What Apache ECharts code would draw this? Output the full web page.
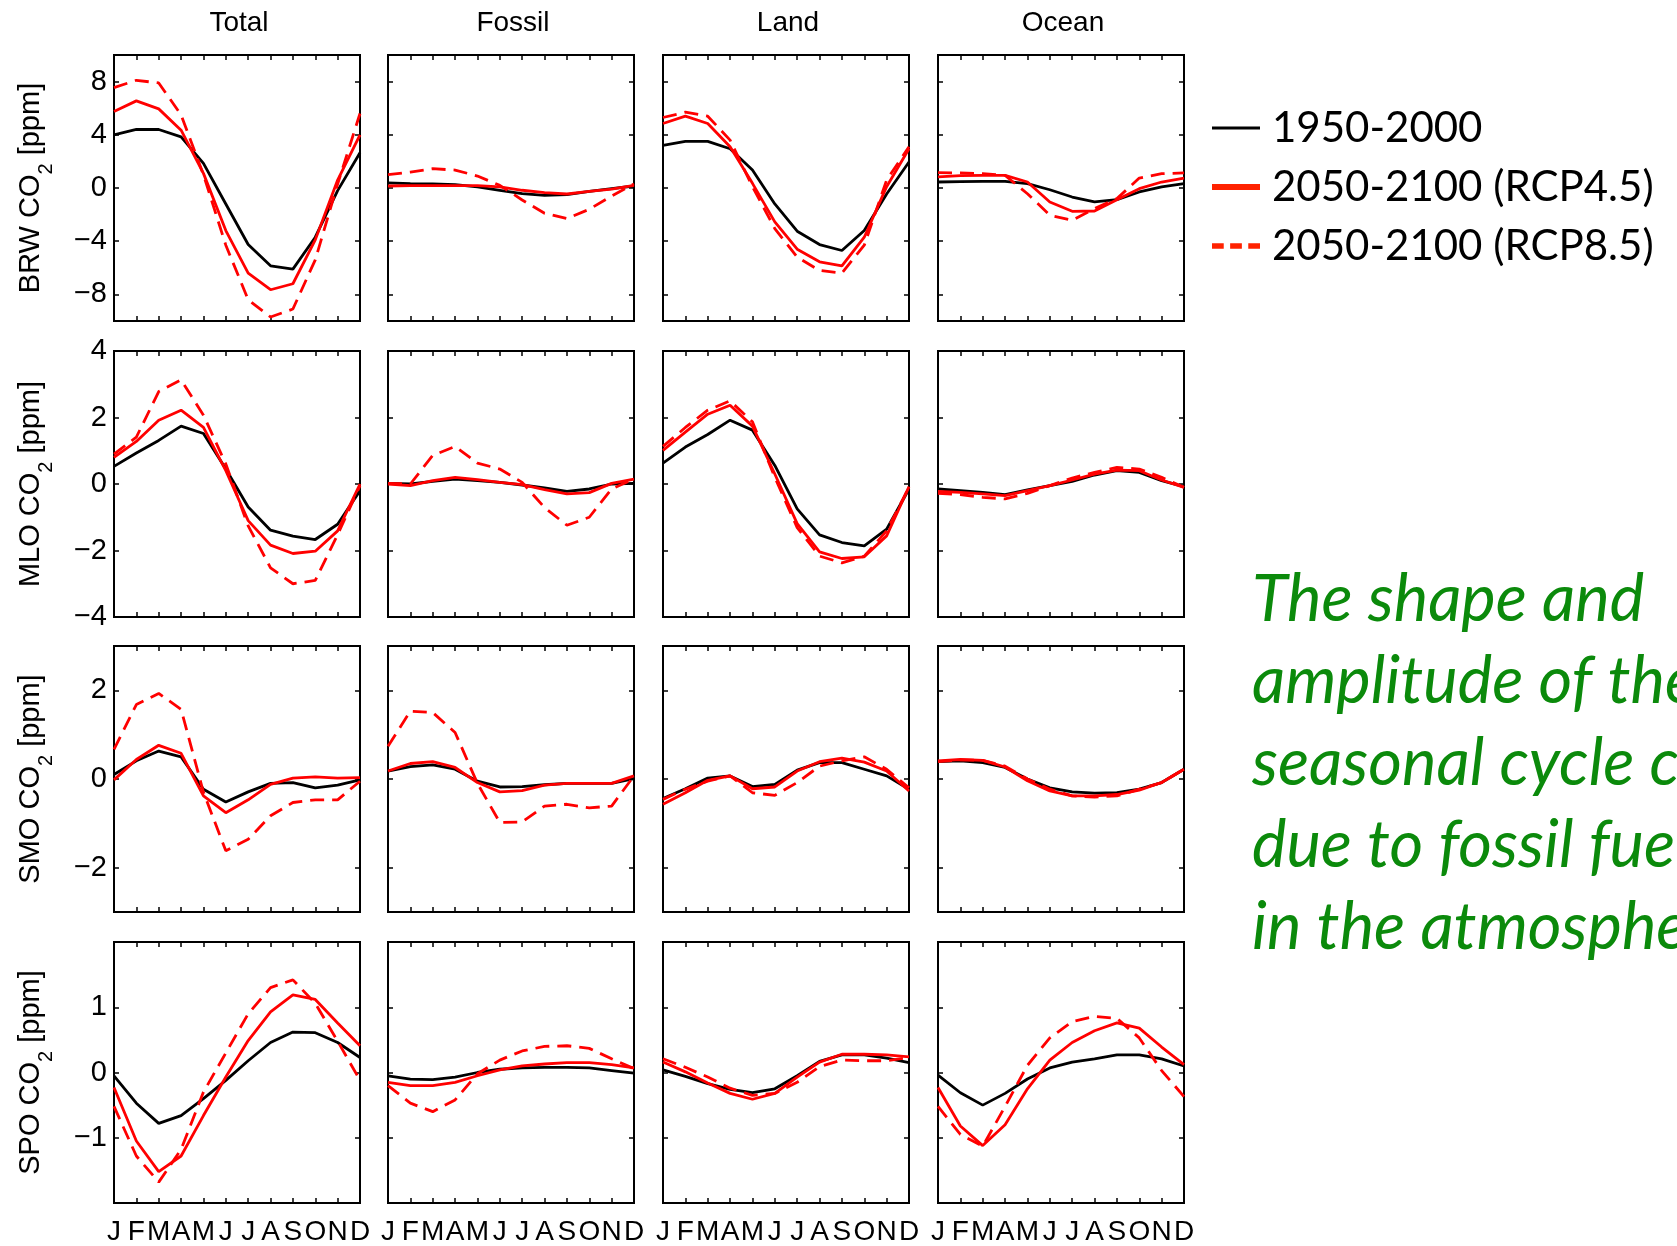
<!DOCTYPE html>
<html><head><meta charset="utf-8">
<script src="https://cdn.jsdelivr.net/npm/echarts@6/dist/echarts.min.js"></script>
<style>html,body{margin:0;padding:0;background:#fff}#chart{width:1677px;height:1246px}</style>
</head><body><div id="chart"></div>
<script>
// ---------- categories / labels ----------
const months = ['J','F','M','A','M','J','J','A','S','O','N','D'];
const stations = ['BRW','MLO','SMO','SPO'];
const components = ['Total','Fossil','Land','Ocean'];
const seriesNames = ['1950-2000','2050-2100 (RCP4.5)','2050-2100 (RCP8.5)'];
const rowMin = [-10,-4,-3,-2];
const rowMax = [10,4,3,2];
const rowTicks = [[-8,-4,0,4,8],[-4,-2,0,2,4],[-2,0,2],[-1,0,1]];
const noteLines = ['The shape and','amplitude of the','seasonal cycle c','due to fossil fue','in the atmosphe'];

// ---------- BRW ----------
const brwTotalHist = [4.0, 4.4, 4.4, 3.85, 1.85, -1.2, -4.25, -5.85, -6.1, -3.7, -0.2, 2.65];
const brwTotal45   = [5.75, 6.55, 5.95, 4.35, 1.1, -3.2, -6.4, -7.65, -7.2, -3.9, 0.6, 4.0];
const brwTotal85   = [7.55, 8.1, 7.9, 5.5, 1.0, -4.3, -8.4, -9.7, -9.1, -5.4, 0.3, 5.6];
const brwFossilHist = [0.38, 0.33, 0.3, 0.25, 0.08, -0.17, -0.42, -0.55, -0.5, -0.25, -0.05, 0.15];
const brwFossil45   = [0.15, 0.18, 0.18, 0.18, 0.18, 0.08, -0.17, -0.35, -0.45, -0.25, -0.08, 0.2];
const brwFossil85   = [1.0, 1.2, 1.45, 1.35, 0.9, 0.2, -0.9, -1.9, -2.3, -1.6, -0.6, 0.3];
const brwLandHist = [3.2, 3.5, 3.5, 2.95, 1.35, -1.2, -3.25, -4.25, -4.7, -3.2, -0.45, 1.95];
const brwLand45   = [4.85, 5.4, 4.85, 3.1, 0.35, -2.55, -4.6, -5.55, -5.85, -3.7, 0.1, 2.95];
const brwLand85   = [5.3, 5.7, 5.4, 3.6, 0.1, -3.05, -5.2, -6.2, -6.4, -4.3, 0.6, 3.1];
const brwOceanHist = [0.45, 0.48, 0.5, 0.5, 0.33, -0.13, -0.68, -1.05, -0.88, -0.3, 0.08, 0.33];
const brwOcean45   = [0.83, 0.93, 0.95, 0.95, 0.45, -1.05, -1.75, -1.73, -0.88, -0.05, 0.45, 0.75];
const brwOcean85   = [1.15, 1.13, 1.08, 0.95, -0.43, -2.05, -2.43, -1.55, -0.8, 0.75, 1.08, 1.13];
// ---------- MLO ----------
const mloTotalHist = [0.53, 0.93, 1.31, 1.74, 1.52, 0.45, -0.69, -1.39, -1.57, -1.67, -1.21, -0.2];
const mloTotal45   = [0.8, 1.28, 1.92, 2.22, 1.7, 0.4, -1.1, -1.84, -2.09, -2.02, -1.41, 0];
const mloTotal85   = [0.9, 1.41, 2.78, 3.13, 2.07, 0.6, -1.26, -2.52, -3.0, -2.9, -1.52, -0.05];
const mloFossilHist = [0.02, 0, 0.08, 0.15, 0.1, 0.05, -0.03, -0.12, -0.22, -0.15, 0, 0.02];
const mloFossil45   = [0, -0.05, 0.1, 0.2, 0.13, 0.05, -0.02, -0.17, -0.3, -0.26, 0.02, 0.15];
const mloFossil85   = [0.02, 0, 0.86, 1.13, 0.63, 0.45, 0.05, -0.71, -1.24, -1.0, -0.15, 0.15];
const mloLandHist = [0.63, 1.11, 1.49, 1.92, 1.62, 0.56, -0.75, -1.53, -1.76, -1.86, -1.36, -0.15];
const mloLand45   = [1.01, 1.56, 2.1, 2.37, 1.74, 0.3, -1.19, -2.04, -2.24, -2.19, -1.56, -0.08];
const mloLand85   = [1.13, 1.7, 2.22, 2.5, 1.87, 0.2, -1.31, -2.17, -2.37, -2.17, -1.41, -0.1];
const mloOceanHist = [-0.15, -0.2, -0.25, -0.32, -0.18, -0.05, 0.08, 0.27, 0.4, 0.35, 0.1, -0.08];
const mloOcean45   = [-0.22, -0.25, -0.3, -0.35, -0.2, -0.05, 0.12, 0.3, 0.42, 0.4, 0.12, -0.1];
const mloOcean85   = [-0.28, -0.32, -0.4, -0.45, -0.28, -0.05, 0.18, 0.35, 0.5, 0.45, 0.2, -0.1];
// ---------- SMO ----------
const smoTotalHist = [0.1, 0.41, 0.63, 0.5, -0.23, -0.52, -0.29, -0.1, -0.08, -0.2, -0.14, -0.02];
const smoTotal45   = [-0.02, 0.44, 0.76, 0.58, -0.38, -0.76, -0.47, -0.12, 0.02, 0.05, 0.02, 0.03];
const smoTotal85   = [0.67, 1.68, 1.93, 1.57, -0.3, -1.62, -1.36, -0.83, -0.53, -0.47, -0.47, -0.05];
const smoFossilHist = [0.18, 0.28, 0.32, 0.22, -0.05, -0.18, -0.17, -0.13, -0.1, -0.1, -0.1, 0.01];
const smoFossil45   = [0.18, 0.35, 0.39, 0.26, -0.08, -0.29, -0.26, -0.14, -0.1, -0.1, -0.1, 0.07];
const smoFossil85   = [0.74, 1.53, 1.5, 1.05, -0.1, -0.98, -0.97, -0.61, -0.57, -0.65, -0.61, 0.07];
const smoLandHist = [-0.44, -0.22, 0.02, 0.07, -0.17, -0.12, 0.2, 0.37, 0.37, 0.22, 0.07, -0.23];
const smoLand45   = [-0.57, -0.31, -0.03, 0.07, -0.22, -0.18, 0.18, 0.39, 0.47, 0.38, 0.18, -0.27];
const smoLand85   = [-0.46, -0.23, -0.05, 0.07, -0.31, -0.37, -0.08, 0.29, 0.41, 0.5, 0.22, -0.2];
const smoOceanHist = [0.39, 0.41, 0.37, 0.26, 0, -0.2, -0.29, -0.32, -0.31, -0.23, -0.08, 0.22];
const smoOcean45   = [0.41, 0.44, 0.42, 0.27, -0.04, -0.27, -0.38, -0.38, -0.35, -0.25, -0.08, 0.22];
const smoOcean85   = [0.39, 0.43, 0.42, 0.29, 0, -0.23, -0.38, -0.41, -0.38, -0.23, -0.08, 0.22];
// ---------- SPO ----------
const spoTotalHist = [-0.05, -0.47, -0.78, -0.66, -0.4, -0.12, 0.18, 0.46, 0.62, 0.61, 0.46, 0.23];
const spoTotal45   = [-0.23, -1.05, -1.52, -1.28, -0.66, -0.07, 0.49, 0.93, 1.19, 1.12, 0.76, 0.41];
const spoTotal85   = [-0.52, -1.28, -1.68, -1.18, -0.3, 0.3, 0.9, 1.3, 1.42, 1.06, 0.48, -0.12];
const spoFossilHist = [-0.05, -0.1, -0.11, -0.07, 0, 0.05, 0.07, 0.08, 0.08, 0.07, 0.03, -0.01];
const spoFossil45   = [-0.15, -0.2, -0.2, -0.15, -0.05, 0.04, 0.1, 0.13, 0.15, 0.15, 0.12, 0.07];
const spoFossil85   = [-0.2, -0.47, -0.6, -0.42, -0.02, 0.19, 0.33, 0.4, 0.41, 0.37, 0.21, 0.06];
const spoLandHist = [0.04, -0.06, -0.17, -0.26, -0.31, -0.25, -0.05, 0.17, 0.27, 0.27, 0.22, 0.15];
const spoLand45   = [0.16, 0.01, -0.16, -0.32, -0.41, -0.32, -0.07, 0.16, 0.28, 0.28, 0.27, 0.24];
const spoLand85   = [0.21, 0.08, -0.07, -0.24, -0.35, -0.32, -0.15, 0.09, 0.19, 0.18, 0.18, 0.23];
const spoOceanHist = [-0.04, -0.31, -0.5, -0.32, -0.1, 0.07, 0.16, 0.21, 0.27, 0.27, 0.21, 0.1];
const spoOcean45   = [-0.23, -0.82, -1.12, -0.8, -0.25, 0.19, 0.46, 0.64, 0.76, 0.68, 0.39, 0.12];
const spoOcean85   = [-0.52, -0.95, -1.13, -0.52, 0.11, 0.53, 0.78, 0.86, 0.83, 0.53, 0.03, -0.37];

const panels = [
  [[brwTotalHist,brwTotal45,brwTotal85],[brwFossilHist,brwFossil45,brwFossil85],[brwLandHist,brwLand45,brwLand85],[brwOceanHist,brwOcean45,brwOcean85]],
  [[mloTotalHist,mloTotal45,mloTotal85],[mloFossilHist,mloFossil45,mloFossil85],[mloLandHist,mloLand45,mloLand85],[mloOceanHist,mloOcean45,mloOcean85]],
  [[smoTotalHist,smoTotal45,smoTotal85],[smoFossilHist,smoFossil45,smoFossil85],[smoLandHist,smoLand45,smoLand85],[smoOceanHist,smoOcean45,smoOcean85]],
  [[spoTotalHist,spoTotal45,spoTotal85],[spoFossilHist,spoFossil45,spoFossil85],[spoLandHist,spoLand45,spoLand85],[spoOceanHist,spoOcean45,spoOcean85]]
];

// ---------- layout ----------
const colLeft = [114, 388, 663, 938];
const rowTop = [55, 351, 646, 942];
const PW = 246, PH = 266;
const FONT = '"Liberation Sans", Arial, Helvetica, sans-serif';
const RED = '#ff0000';
const lineStyles = [
  {color:'#000000', width:2.8, type:'solid'},
  {color:RED, width:2.8, type:'solid'},
  {color:RED, width:2.8, type:[14,8]}
];
const fmtNum = v => v < 0 ? '\u2212' + Math.abs(v) : String(v);
const tickStyle = {color:'#000', width:1.5};

const grid = [], xAxis = [], yAxis = [], series = [];
for (let r = 0; r < 4; r++) {
  for (let c = 0; c < 4; c++) {
    const g = r * 4 + c;
    grid.push({left: colLeft[c], top: rowTop[r], width: PW, height: PH,
      show: true, borderColor: '#000', borderWidth: 2, backgroundColor: 'transparent', containLabel: false});
    const xBase = {type:'value', gridIndex:g, min:0, max:11, interval:1,
      axisLine:{show:false, onZero:false}, splitLine:{show:false},
      axisTick:{show:true, inside:true, length:5, lineStyle:tickStyle}};
    xAxis.push(Object.assign({}, xBase, {position:'bottom',
      axisLabel:{show: r === 3, margin: 15, fontSize: 28, fontFamily: FONT, color:'#000',
        formatter: v => months[v] || ''}}));
    xAxis.push(Object.assign({}, xBase, {position:'top', axisLabel:{show:false}}));
    const yBase = {type:'value', gridIndex:g, min:rowMin[r], max:rowMax[r],
      axisLine:{show:false, onZero:false}, splitLine:{show:false},
      axisTick:{show:true, inside:true, length:5, lineStyle:tickStyle, customValues: rowTicks[r]}};
    const yLeft = Object.assign({}, yBase, {position:'left',
      axisLabel:{show: c === 0, margin: 7, fontSize: 29, fontFamily: FONT, color:'#000',
        customValues: rowTicks[r], formatter: fmtNum}});
    if (c === 0) {
      yLeft.name = '{t|' + stations[r] + ' CO}{s|2}{t| [ppm]}';
      yLeft.nameLocation = 'middle';
      yLeft.nameRotate = 90;
      yLeft.nameGap = 58;
      yLeft.nameTextStyle = {rich: {
        t: {fontSize: 29, fontFamily: FONT, color:'#000', lineHeight: 50},
        s: {fontSize: 20, fontFamily: FONT, color:'#000', lineHeight: 20, verticalAlign: 'bottom'}
      }};
    }
    yAxis.push(yLeft);
    yAxis.push(Object.assign({}, yBase, {position:'right', axisLabel:{show:false}}));
    panels[r][c].forEach((arr, k) => {
      series.push({
        name: seriesNames[k], type: 'line', xAxisIndex: 2*g, yAxisIndex: 2*g,
        data: arr.map((v, i) => [i, v]),
        symbol: 'none', showSymbol: false, silent: true, z: 2 + k,
        lineStyle: Object.assign({}, lineStyles[k])
      });
    });
  }
}

const titles = components.map((name, c) => ({
  text: name, left: colLeft[c] + PW / 2 - 3, top: 4, textAlign: 'center',
  textStyle: {fontFamily: FONT, fontSize: 28, fontWeight: 'normal', color: '#000'}
}));
titles.push({
  text: noteLines.join('\n'), left: 1247, top: 554,
  textStyle: {fontFamily: 'Lato, "Open Sans", sans-serif', fontStyle: 'italic', fontSize: 65,
    lineHeight: 82, fontWeight: 'normal', color: '#0b8a0b'}
});

const chart = echarts.init(document.getElementById('chart'), null, {renderer: 'canvas'});
chart.setOption({
  backgroundColor: '#ffffff',
  animation: false,
  title: titles,
  legend: {
    orient: 'vertical', left: 1207, top: 100, itemWidth: 48, itemHeight: 16, itemGap: 13,
    selectedMode: false,
    textStyle: {fontFamily: 'Lato, "Open Sans", sans-serif', fontSize: 42, color: '#000', lineHeight: 46, padding: [0,0,0,7]},
    data: [
      {name: seriesNames[0], icon: 'path://M0,0L48,0L48,3L0,3Z', itemStyle:{color:'#000'}},
      {name: seriesNames[1], icon: 'path://M0,0L48,0L48,6L0,6Z', itemStyle:{color:'#ff2200'}},
      {name: seriesNames[2], icon: 'path://M0,0L11,0L11,5L0,5ZM17,0L28,0L28,5L17,5ZM34,0L45,0L45,5L34,5Z', itemStyle:{color:'#ff2200'}}
    ]
  },
  grid: grid, xAxis: xAxis, yAxis: yAxis, series: series
});
</script></body></html>
